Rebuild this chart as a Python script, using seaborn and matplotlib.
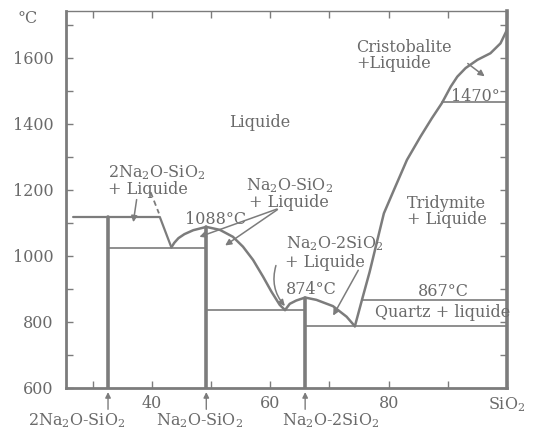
import matplotlib
matplotlib.use("Agg")
import matplotlib.pyplot as plt
import seaborn as sns
import pandas as pd

# ---------------- data (wt% SiO2, temperature in °C) ----------------
compound_labels = ["2Na$_2$O-SiO$_2$", "Na$_2$O-SiO$_2$", "Na$_2$O-2SiO$_2$"]
compound_x = [32.6, 49.2, 65.9]
compound_melt = [1118, 1088, 874]

# liquidus branches
liq_a_x = [26.7, 41.35, 43.3]
liq_a_T = [1118, 1118, 1026]
liq_b_x = [43.3, 43.8, 44.5, 45.5, 47.0, 49.2, 51.5, 53.7, 55.4, 57.1, 58.8, 60.2, 61.6, 62.5]
liq_b_T = [1026, 1040, 1054, 1066, 1078, 1088, 1079, 1058, 1028, 988, 937, 892, 852, 836]
liq_c_x = [62.5, 63.3, 64.4, 65.9, 67.8, 70.6, 72.9, 74.3]
liq_c_T = [836, 855, 865, 874, 867, 848, 816, 787]
liq_d_x = [74.3, 75.5, 76.8, 78.1, 79.2, 80.9, 83.1, 85.4, 87.3, 89.0, 90.5, 91.6, 93.0, 95.0, 97.2, 98.9, 100.0]
liq_d_T = [787, 867, 952, 1048, 1129, 1200, 1291, 1362, 1417, 1463, 1513, 1543, 1569, 1594, 1614, 1644, 1685]

# isotherms (eutectics / polymorphic transitions): x start, x end, T
iso_x0 = [32.6, 49.2, 65.9, 75.5, 89.0]
iso_x1 = [49.2, 65.9, 100.0, 100.0, 100.0]
iso_T = [1025, 836, 787, 867, 1466]

# tick labels
x_major = [40, 60, 80, 100]
x_major_labels = ["40", "60", "80", "SiO$_2$"]
x_minor = [30, 50, 70, 90]
y_major = [600, 800, 1000, 1200, 1400, 1600]
y_minor = [700, 900, 1100, 1300, 1500, 1700]

# ---------------- style ----------------
sns.set_theme(style="ticks")
plt.rcParams["font.family"] = ["DejaVu Serif"]
plt.rcParams["mathtext.fontset"] = "dejavuserif"

LC = "#7c7c7c"   # line colour
TC = "#6a6a6a"   # text colour
FS = 11.5

fig = plt.figure(figsize=(5.48, 4.30), dpi=100)
ax = fig.add_axes([66 / 548, 42 / 430, 441 / 548, 377 / 430])
ax.set_xlim(25.5, 100)
ax.set_ylim(600, 1742)


def curve(xs, ys, lw=1.8, ls="-"):
    df = pd.DataFrame({"x": xs, "T": ys})
    sns.lineplot(data=df, x="x", y="T", sort=False, estimator=None, ax=ax,
                 color=LC, lw=lw, linestyle=ls, legend=False)


# liquidus curves
curve(liq_a_x, liq_a_T, lw=1.6)
curve(liq_b_x, liq_b_T)
curve(liq_c_x, liq_c_T)
curve(liq_d_x, liq_d_T)

# isotherms
for x0, x1, t in zip(iso_x0, iso_x1, iso_T):
    curve([x0, x1], [t, t], lw=1.2)

# compound vertical lines
for cx, cm in zip(compound_x, compound_melt):
    curve([cx, cx], [600, cm], lw=2.6)

# dashed extension of 2Na2O-SiO2 liquidus
curve([39.8, 41.2], [1193, 1129], lw=1.3, ls=(0, (3, 2)))

# ---------------- text ----------------
def txt(x, y, s, ha="center", **kw):
    ax.text(x, y, s, ha=ha, va="center", color=TC, fontsize=FS, **kw)


txt(58.2, 1403, "Liquide")
txt(40.8, 1252, "2Na$_2$O-SiO$_2$")
txt(39.4, 1202, "+ Liquide")
txt(63.3, 1214, "Na$_2$O-SiO$_2$")
txt(63.1, 1163, "+ Liquide")
txt(50.8, 1109, "1088°C")
txt(70.9, 1037, "Na$_2$O-2SiO$_2$")
txt(69.2, 981, "+ Liquide")
txt(67.0, 897, "874°C")
txt(89.3, 891, "867°C")
txt(77.7, 830, "Quartz + liquide", ha="left", clip_on=False)
txt(89.8, 1160, "Tridymite")
txt(89.8, 1111, "+ Liquide")
txt(74.5, 1630, "Cristobalite", ha="left")
txt(74.5, 1582, "+Liquide", ha="left")
txt(94.6, 1484, "1470°")
ax.text(-0.088, 0.981, "°C", transform=ax.transAxes, ha="center", va="center",
        color=TC, fontsize=FS)

# arrows
arr = dict(arrowstyle="-|>", color=LC, lw=1.1, mutation_scale=9)
ax.annotate("", xy=(36.8, 1094), xytext=(37.5, 1179), arrowprops=arr)
ax.annotate("", xy=(47.6, 1055), xytext=(61.6, 1145), arrowprops=arr)
ax.annotate("", xy=(52.0, 1027), xytext=(61.6, 1145), arrowprops=arr)
ax.annotate("", xy=(62.8, 842), xytext=(61.1, 979),
            arrowprops=dict(arr, connectionstyle="arc3,rad=0.3"))
ax.annotate("", xy=(70.4, 812), xytext=(75.1, 964), arrowprops=arr)
ax.annotate("", xy=(96.6, 1539), xytext=(93.0, 1588), arrowprops=arr)

# compound markers below the axis
for cx, lab, lx in zip(compound_x, compound_labels, [27.3, 48.1, 70.2]):
    ax.annotate("", xy=(cx, 596), xytext=(cx, 527), annotation_clip=False,
                arrowprops=dict(arrowstyle="-|>", color=LC, lw=1.0, mutation_scale=8))
    ax.text(lx, 500, lab, ha="center", va="center", color=TC, fontsize=FS,
            clip_on=False)

# ---------------- axes ----------------
ax.set_xticks(x_major)
ax.set_xticklabels(x_major_labels)
ax.set_xticks(x_minor, minor=True)
ax.set_yticks(y_major)
ax.set_yticks(y_minor, minor=True)
ax.set_xlabel("")
ax.set_ylabel("")
ax.tick_params(which="both", direction="in", top=True, right=True, color=LC,
               length=5, width=1, labelcolor=TC, labelsize=FS)
ax.tick_params(axis="x", which="major", pad=5)
ax.tick_params(axis="y", which="major", pad=9)
for side, lw in [("left", 2.0), ("bottom", 2.0), ("right", 2.6), ("top", 1.0)]:
    ax.spines[side].set_color(LC)
    ax.spines[side].set_linewidth(lw)
ax.grid(False)
ax.set_facecolor("white")

fig.savefig("out.png", dpi=100, facecolor="white")
